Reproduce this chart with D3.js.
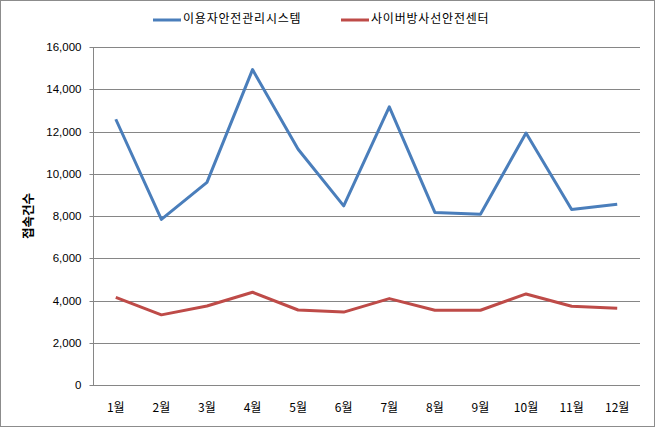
<!DOCTYPE html>
<html><head><meta charset="utf-8">
<script src="https://cdn.jsdelivr.net/npm/d3@7"></script>
<style>
html,body{margin:0;padding:0;background:#fff;}
svg{display:block;}
</style></head>
<body>
<svg id="chart" width="655" height="427"></svg>
<script>
const months = ["1월","2월","3월","4월","5월","6월","7월","8월","9월","10월","11월","12월"];
const seriesNames = ["이용자안전관리시스템","사이버방사선안전센터"];
const userSystem = [12580, 7840, 9590, 14930, 11160, 8480, 13170, 8170, 8080, 11930, 8310, 8560];
const cyberCenter = [4150, 3320, 3740, 4390, 3550, 3450, 4090, 3540, 3540, 4310, 3730, 3630];
const yTicks = [0, 2000, 4000, 6000, 8000, 10000, 12000, 14000, 16000];
const yTitle = "접속건수";
const colors = ["#4A7EBB", "#BE4B48"];

const svg = d3.select("#chart");
const W = 655, H = 427;
const m = {left: 93, right: 15, top: 47, bottom: 42};

svg.append("rect").attr("x",0.5).attr("y",0.5).attr("width",W-1).attr("height",H-1)
  .attr("fill","#fff").attr("stroke","#8c8c8c").attr("stroke-width",1);

const x = d3.scaleBand().domain(months).range([m.left, W - m.right]);
const y = d3.scaleLinear().domain([0,16000]).range([H - m.bottom, m.top]);

// gridlines
svg.append("g").selectAll("line").data(yTicks.filter(d=>d>0)).join("line")
  .attr("x1", m.left).attr("x2", W - m.right)
  .attr("y1", d=>Math.round(y(d))+0.5).attr("y2", d=>Math.round(y(d))+0.5)
  .attr("stroke","#868686").attr("stroke-width",1);

// y axis
const yAxis = d3.axisLeft(y).tickValues(yTicks).tickSize(4).tickPadding(8)
  .tickFormat(d3.format(","));
const gy = svg.append("g").attr("transform",`translate(${m.left+0.5},0)`).call(yAxis);
gy.selectAll(".tick line").attr("stroke","#868686");
gy.select(".domain").attr("stroke","#868686").attr("d", `M0,${y(16000)}V${Math.round(y(0))+0.5}`);
gy.selectAll(".tick").attr("transform", d=>`translate(0,${Math.round(y(d))+0.5})`);
gy.selectAll("text").attr("font-family","'Liberation Sans', Arial, sans-serif")
  .attr("font-size","11.5px").attr("fill","#000");

// x axis
const xAxis = d3.axisBottom(x).tickSize(0).tickPadding(18);
const gx = svg.append("g").attr("transform",`translate(0,${Math.round(y(0))+0.5})`).call(xAxis);
gx.select(".domain").attr("stroke","#868686").attr("d", `M${m.left},0H${W-m.right}`);
gx.selectAll("text").attr("font-family","'Noto Sans CJK KR', sans-serif")
  .attr("font-size","12px").attr("fill","#000");

// y title
svg.append("text").attr("transform",`translate(30,${(y(0)+y(16000))/2}) rotate(-90)`)
  .attr("text-anchor","middle").attr("dominant-baseline","middle")
  .attr("font-family","'Noto Sans CJK KR', sans-serif").attr("font-weight","bold")
  .attr("font-size","12.5px").text(yTitle);

// lines
const line = d3.line().x((d,i)=>x(months[i]) + x.bandwidth()/2).y(d=>y(d));
[userSystem, cyberCenter].forEach((data,k)=>{
  svg.append("path").datum(data).attr("d", line).attr("fill","none")
    .attr("stroke", colors[k]).attr("stroke-width",3).attr("stroke-linejoin","round");
});

// legend
const legendX = [153, 341];
seriesNames.forEach((name,k)=>{
  const g = svg.append("g").attr("transform",`translate(${legendX[k]},20)`);
  g.append("line").attr("x1",0).attr("x2",28).attr("y1",0).attr("y2",0)
    .attr("stroke",colors[k]).attr("stroke-width",3);
  g.append("text").attr("x",30).attr("y",0).attr("dominant-baseline","middle")
    .attr("font-family","'Noto Sans CJK KR', sans-serif").attr("font-size","12px")
    .attr("letter-spacing","0.8px")
    .text(name);
});
</script>
</body></html>
